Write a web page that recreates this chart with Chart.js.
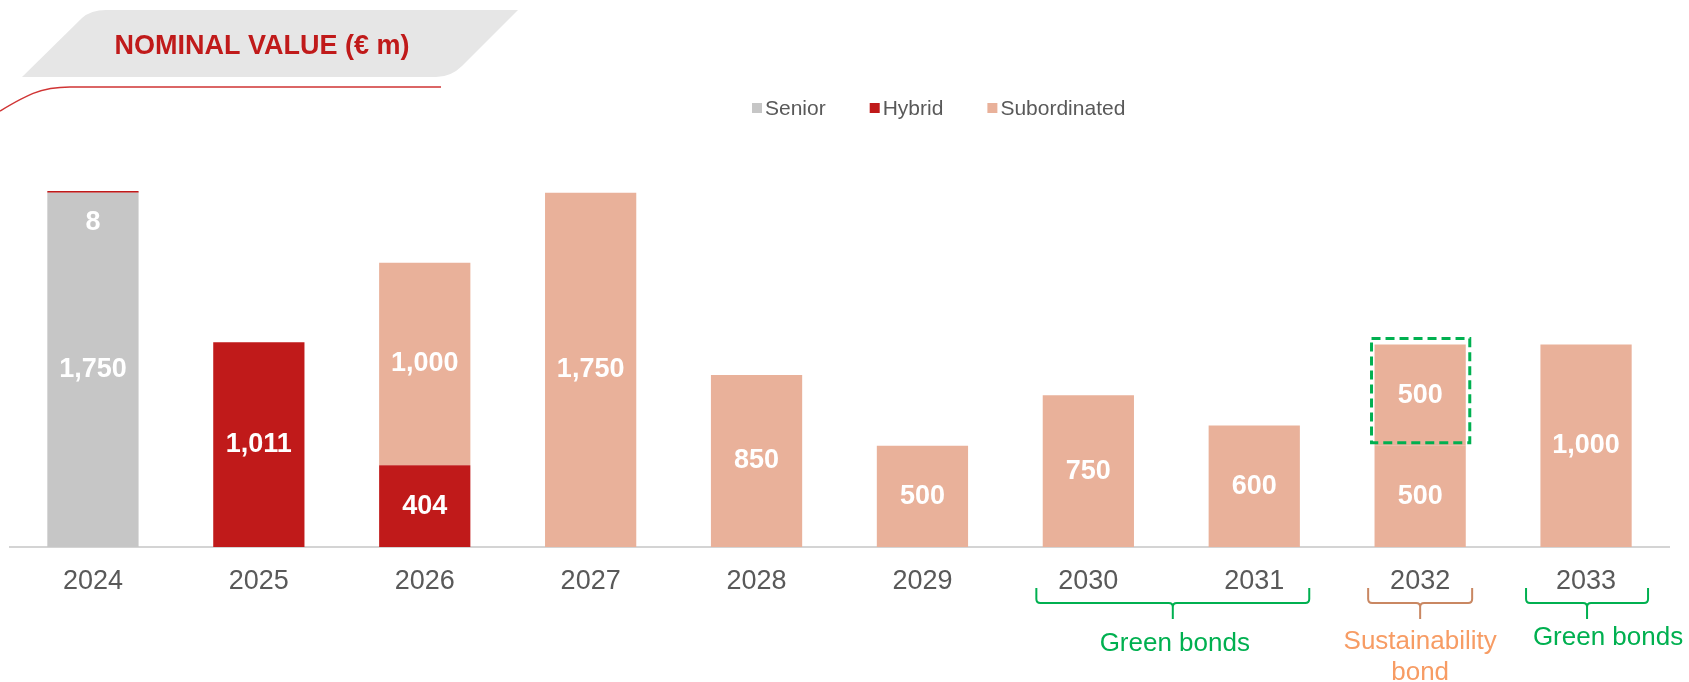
<!DOCTYPE html>
<html>
<head>
<meta charset="utf-8">
<title>Nominal value</title>
<script src="https://cdn.jsdelivr.net/npm/chart.js@4.4.1/dist/chart.umd.min.js"></script>
<style>
  html, body { margin: 0; padding: 0; background: #fff; }
  #wrap { width: 1689px; height: 682px; position: relative; }
</style>
</head>
<body>
<div id="wrap"><canvas id="mycanvas" width="1689" height="682"></canvas></div>
<script>
// maturities by year, € m
var years = ['2024', '2025', '2026', '2027', '2028', '2029', '2030', '2031', '2032', '2033'];
var senior = [1750, 0, 0, 0, 0, 0, 0, 0, 0, 0];
var hybrid = [8, 1011, 404, 0, 0, 0, 0, 0, 0, 0];
var subordinated = [0, 0, 1000, 1750, 850, 500, 750, 600, 500, 1000];
var sustainabilityTranche = [0, 0, 0, 0, 0, 0, 0, 0, 500, 0];
var seriesNames = ['Senior', 'Hybrid', 'Subordinated'];

var FONT = '"Liberation Sans", Arial, sans-serif';
var GREY = '#c6c6c6';
var RED = '#c01a1a';
var SALMON = '#e9b19a';
var GREEN = '#00b050';
var TEXT = '#595959';

var brackets = [
	{ from: 6, to: 7, l: 52, r: 55, color: GREEN, textColor: GREEN, text: ['Green bonds'], dx: 2, y: 651 },
	{ from: 8, to: 8, l: 52, r: 52, color: '#c98762', textColor: '#f79c64', text: ['Sustainability', 'bond'], dx: 0, y: 649 },
	{ from: 9, to: 9, l: 60, r: 62, color: GREEN, textColor: GREEN, text: ['Green bonds'], dx: 21, y: 645 }
];

// header tab, red rule, legend and the brackets under the axis
var decor = {
	id: 'decor',
	beforeDraw: function(chart) {
		var c = chart.ctx;
		c.save();
		c.fillStyle = '#e6e6e6';
		c.beginPath();
		c.moveTo(22, 77);
		c.lineTo(82, 18);
		c.quadraticCurveTo(91, 10, 106, 10);
		c.lineTo(518, 10);
		c.lineTo(462, 66);
		c.quadraticCurveTo(451, 77, 436, 77);
		c.closePath();
		c.fill();

		c.fillStyle = RED;
		c.font = 'bold 27px ' + FONT;
		c.textAlign = 'center';
		c.textBaseline = 'alphabetic';
		c.fillText('NOMINAL VALUE (€ m)', 262, 54);

		c.strokeStyle = '#d03434';
		c.lineWidth = 1.5;
		c.beginPath();
		c.moveTo(0, 111);
		c.bezierCurveTo(25, 96, 40, 87, 70, 87);
		c.lineTo(441, 87);
		c.stroke();
		c.restore();
	},
	afterDraw: function(chart) {
		var c = chart.ctx;
		var xs = chart.scales.x;
		c.save();

		// legend
		c.font = '21px ' + FONT;
		c.textBaseline = 'middle';
		c.textAlign = 'left';
		var lx = 752;
		for (var i = 0; i < seriesNames.length; i++) {
			c.fillStyle = chart.data.datasets[i].backgroundColor;
			c.fillRect(lx, 103, 10, 10);
			c.fillStyle = TEXT;
			c.fillText(seriesNames[i], lx + 13, 109);
			lx += 13 + c.measureText(seriesNames[i]).width + 44;
		}

		// brackets
		c.lineWidth = 2;
		brackets.forEach(function(b) {
			var x1 = xs.getPixelForValue(b.from) - b.l;
			var x2 = xs.getPixelForValue(b.to) + b.r;
			var cx = (x1 + x2) / 2;
			c.strokeStyle = b.color;
			c.beginPath();
			c.moveTo(x1, 588);
			c.lineTo(x1, 599);
			c.quadraticCurveTo(x1, 603, x1 + 4, 603);
			c.lineTo(cx - 4, 603);
			c.quadraticCurveTo(cx, 603, cx, 607);
			c.lineTo(cx, 619);
			c.moveTo(x2, 588);
			c.lineTo(x2, 599);
			c.quadraticCurveTo(x2, 603, x2 - 4, 603);
			c.lineTo(cx + 4, 603);
			c.quadraticCurveTo(cx, 603, cx, 607);
			c.stroke();

			c.fillStyle = b.textColor;
			c.font = '26px ' + FONT;
			c.textAlign = 'center';
			c.textBaseline = 'alphabetic';
			b.text.forEach(function(t, k) {
				c.fillText(t, cx + b.dx, b.y + k * 31);
			});
		});
		c.restore();
	}
};

// values inside the bars, plus the dashed box round the 2032 tranche
var valueLabels = {
	id: 'valueLabels',
	afterDatasetsDraw: function(chart) {
		var c = chart.ctx;
		c.save();
		c.fillStyle = '#fff';
		c.font = 'bold 27px ' + FONT;
		c.textAlign = 'center';
		c.textBaseline = 'middle';
		chart.data.datasets.forEach(function(ds, i) {
			var meta = chart.getDatasetMeta(i);
			meta.data.forEach(function(bar, j) {
				var v = ds.data[j];
				if (!v) return;
				var h = bar.base - bar.y;
				var y = (bar.y + bar.base) / 2;
				if (h < 20) y = bar.base + 30;
				c.fillText(v.toLocaleString('en-US'), bar.x, y);
			});
		});

		var box = chart.getDatasetMeta(3).data[8];
		c.strokeStyle = GREEN;
		c.lineWidth = 3;
		c.setLineDash([9, 5]);
		c.strokeRect(box.x - box.width / 2 - 3, box.y - 6, box.width + 7, box.base - box.y + 3);
		c.restore();
	}
};

var ctx = document.getElementById('mycanvas');

var barGraph = new Chart(ctx, {
	type: 'bar',
	data: {
		labels: years,
		datasets: [
			{ label: 'Senior', data: senior, backgroundColor: GREY },
			{ label: 'Hybrid', data: hybrid, backgroundColor: RED },
			{ label: 'Subordinated', data: subordinated, backgroundColor: SALMON },
			{ label: 'Subordinated', data: sustainabilityTranche, backgroundColor: SALMON }
		]
	},
	options: {
		responsive: false,
		animation: false,
		events: [],
		layout: { padding: { left: 10, right: 20, top: 142, bottom: 0 } },
		datasets: {
			bar: { categoryPercentage: 1, barPercentage: 0.55, borderWidth: 0 }
		},
		plugins: {
			legend: { display: false },
			title: { display: false },
			tooltip: { enabled: false }
		},
		scales: {
			x: {
				stacked: true,
				grid: { display: false },
				border: { display: true, color: '#d4d4d4', width: 2 },
				ticks: { color: TEXT, font: { family: FONT, size: 27 }, padding: 10 },
				afterFit: function(axis) { axis.height = 135; }
			},
			y: {
				stacked: true,
				display: false,
				min: 0,
				max: 2000
			}
		}
	},
	plugins: [decor, valueLabels]
});
</script>
</body>
</html>
